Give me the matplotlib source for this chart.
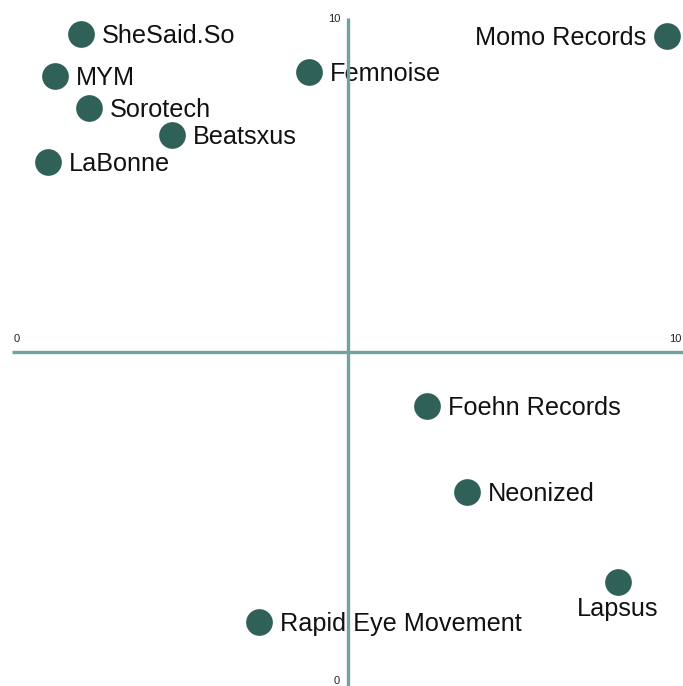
import matplotlib.pyplot as plt

# Label positions on a 0-10 / 0-10 quadrant
names = ['SheSaid.So', 'MYM', 'Sorotech', 'Beatsxus', 'LaBonne', 'Femnoise',
         'Momo Records', 'Foehn Records', 'Neonized', 'Lapsus', 'Rapid Eye Movement']
x_vals = [1.03, 0.64, 1.15, 2.38, 0.54, 4.43, 9.76, 6.18, 6.78, 9.03, 3.68]
y_vals = [9.76, 9.13, 8.65, 8.25, 7.84, 9.19, 9.73, 4.19, 2.90, 1.56, 0.96]
label_side = ['right', 'right', 'right', 'right', 'right', 'right',
              'left', 'right', 'right', 'below', 'right']

plt.rcParams['font.family'] = ['Liberation Sans', 'DejaVu Sans']

fig = plt.figure(figsize=(6.83, 6.86), dpi=100)
ax = fig.add_axes([0, 0, 1, 1])
ax.set_xlim(-0.179, 10)
ax.set_ylim(0, 10.27)
ax.axis('off')

line_color = '#6fa39b'
dot_color = '#2f6158'

# quadrant axes
ax.plot([0, 10], [5, 5], color=line_color, lw=2.4, zorder=3, solid_capstyle='butt')
ax.plot([5, 5], [0, 10], color=line_color, lw=2.4, zorder=3, solid_capstyle='butt')

# axis end labels
ax.text(0.02, 5.12, '0', fontsize=8, ha='left', va='bottom', color='#222')
ax.text(9.98, 5.12, '10', fontsize=8, ha='right', va='bottom', color='#222')
ax.text(4.9, 9.99, '10', fontsize=8, ha='right', va='center', color='#222')
ax.text(4.88, 0.0, '0', fontsize=8, ha='right', va='bottom', color='#222')

ax.scatter(x_vals, y_vals, s=370, color=dot_color, zorder=2, linewidths=0)

for name, x, y, side in zip(names, x_vals, y_vals, label_side):
    if side == 'right':
        ax.annotate(name, (x, y), xytext=(15, -1.5), textcoords='offset points',
                    ha='left', va='center', fontsize=18.2, color='#111', zorder=2)
    elif side == 'left':
        ax.annotate(name, (x, y), xytext=(-15, -1.5), textcoords='offset points',
                    ha='right', va='center', fontsize=18.2, color='#111', zorder=2)
    else:
        ax.annotate(name, (x, y), xytext=(0, -11), textcoords='offset points',
                    ha='center', va='top', fontsize=18.2, color='#111', zorder=2)

fig.savefig('out.png', dpi=100)
